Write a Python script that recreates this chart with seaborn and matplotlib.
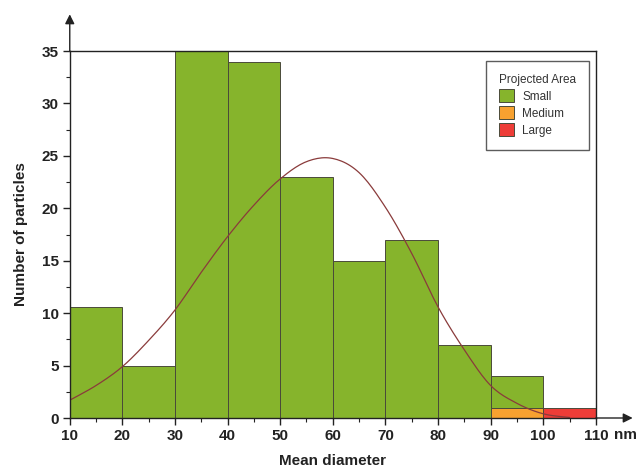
import numpy as np
import pandas as pd
import matplotlib
matplotlib.use("Agg")
import matplotlib.pyplot as plt
from matplotlib.patches import Patch
from matplotlib.ticker import MultipleLocator
import seaborn as sns

# Histogram bins (nm) and particle counts per projected-area class
bin_edges = [10, 20, 30, 40, 50, 60, 70, 80, 90, 100, 110]
small_counts = [10.6, 5, 35, 34, 23, 15, 17, 7, 4, 0]
medium_counts = [0, 0, 0, 0, 0, 0, 0, 0, 1, 0]
large_counts = [0, 0, 0, 0, 0, 0, 0, 0, 0, 1]

# Distribution fit curve
curve_x = [10, 15, 20, 25, 30, 35, 40, 45, 50, 55, 60, 65, 70, 75,
           80, 85, 90, 95, 100, 105]
curve_y = [1.7, 3.1, 4.9, 7.4, 10.3, 13.9, 17.3, 20.3, 22.8, 24.45, 24.75,
           23.4, 20.1, 15.7, 10.6, 6.5, 3.1, 1.4, 0.4, 0.05]

classes = ["Small", "Medium", "Large"]
class_colors = ["#86b42c", "#f7a130", "#ee3d38"]


def smooth_path(xs, ys, steps=12):
    """Catmull-Rom rendering of a polyline so the fit line draws smoothly."""
    p = np.column_stack([xs, ys]).astype(float)
    p = np.vstack([p[0], p, p[-1]])
    out = []
    t = np.linspace(0, 1, steps, endpoint=False)[:, None]
    for i in range(1, len(p) - 2):
        p0, p1, p2, p3 = p[i - 1], p[i], p[i + 1], p[i + 2]
        seg = 0.5 * ((2 * p1) + (-p0 + p2) * t
                     + (2 * p0 - 5 * p1 + 4 * p2 - p3) * t ** 2
                     + (-p0 + 3 * p1 - 3 * p2 + p3) * t ** 3)
        out.append(seg)
    out.append(p[-2][None, :])
    out = np.vstack(out)
    return out[:, 0], out[:, 1]


sns.set_style("white")
plt.rcParams["font.family"] = ["Liberation Sans", "DejaVu Sans"]

fig = plt.figure(figsize=(6.4, 4.75), dpi=100)
ax = fig.add_axes([0.109, 0.12, 0.822, 0.7726])

centers = [(a + b) / 2 for a, b in zip(bin_edges[:-1], bin_edges[1:])]
for counts, color in zip([small_counts, medium_counts, large_counts], class_colors):
    df = pd.DataFrame({"diameter": centers, "count": counts})
    df = df[df["count"] > 0]
    sns.histplot(data=df, x="diameter", weights="count", bins=bin_edges,
                 color=color, alpha=1, edgecolor="#4a4a3a", linewidth=0.7,
                 ax=ax, zorder=2)

sx, sy = smooth_path(curve_x, curve_y)
sns.lineplot(x=sx, y=sy, color="#8a3b3b", linewidth=0.9, ax=ax, zorder=3,
             sort=False)

ax.set_xlim(10, 110)
ax.set_ylim(0, 35)
ax.xaxis.set_major_locator(MultipleLocator(10))
ax.xaxis.set_minor_locator(MultipleLocator(5))
ax.yaxis.set_major_locator(MultipleLocator(5))
ax.yaxis.set_minor_locator(MultipleLocator(2.5))
ax.tick_params(axis="both", which="major", direction="out", length=5,
               width=1, color="#222222", labelsize=11, pad=3)
ax.tick_params(axis="both", which="minor", direction="out", length=3,
               width=0.8, color="#222222")
ax.tick_params(axis="x", bottom=True, which="both")
ax.tick_params(axis="y", left=True, which="both")
for lab in ax.get_xticklabels() + ax.get_yticklabels():
    lab.set_fontweight("bold")
    lab.set_color("#222222")

for side in ["left", "bottom", "top", "right"]:
    ax.spines[side].set_visible(True)
    ax.spines[side].set_color("#222222")
    ax.spines[side].set_linewidth(1.0)
    ax.spines[side].set_zorder(4)

ax.set_xlabel("Mean diameter", fontsize=11, fontweight="bold", color="#222222",
              labelpad=8)
ax.set_ylabel("Number of particles", fontsize=11, fontweight="bold",
              color="#222222", labelpad=10)

# Arrow heads extending the axes
ax.annotate("", xy=(0, 1.10), xytext=(0, 1.0), xycoords="axes fraction",
            arrowprops=dict(arrowstyle="-|>", color="#222222", lw=1.0,
                            mutation_scale=14, shrinkA=0, shrinkB=0))
ax.annotate("", xy=(1.07, 0), xytext=(1.0, 0), xycoords="axes fraction",
            arrowprops=dict(arrowstyle="-|>", color="#222222", lw=1.0,
                            mutation_scale=14, shrinkA=0, shrinkB=0))
ax.text(1.035, -0.045, "nm", transform=ax.transAxes, fontsize=11,
        fontweight="bold", color="#222222", ha="left", va="center")

handles = [Patch(facecolor=c, edgecolor="#4a4a3a", linewidth=0.7, label=n)
           for n, c in zip(classes, class_colors)]
leg = ax.legend(handles=handles, title="Projected Area", loc="upper right",
                bbox_to_anchor=(0.993, 0.983), fontsize=8.5, title_fontsize=8.5,
                frameon=True, fancybox=False, edgecolor="#333333",
                handlelength=1.3, handleheight=1.3, handletextpad=0.7,
                labelspacing=0.3, borderpad=1.1, borderaxespad=0.3)
leg.get_frame().set_linewidth(1.0)
leg._legend_box.align = "left"
leg.get_title().set_color("#333333")
for t in leg.get_texts():
    t.set_color("#333333")
leg.set_zorder(5)

fig.savefig("out.png", dpi=100, facecolor="white")
